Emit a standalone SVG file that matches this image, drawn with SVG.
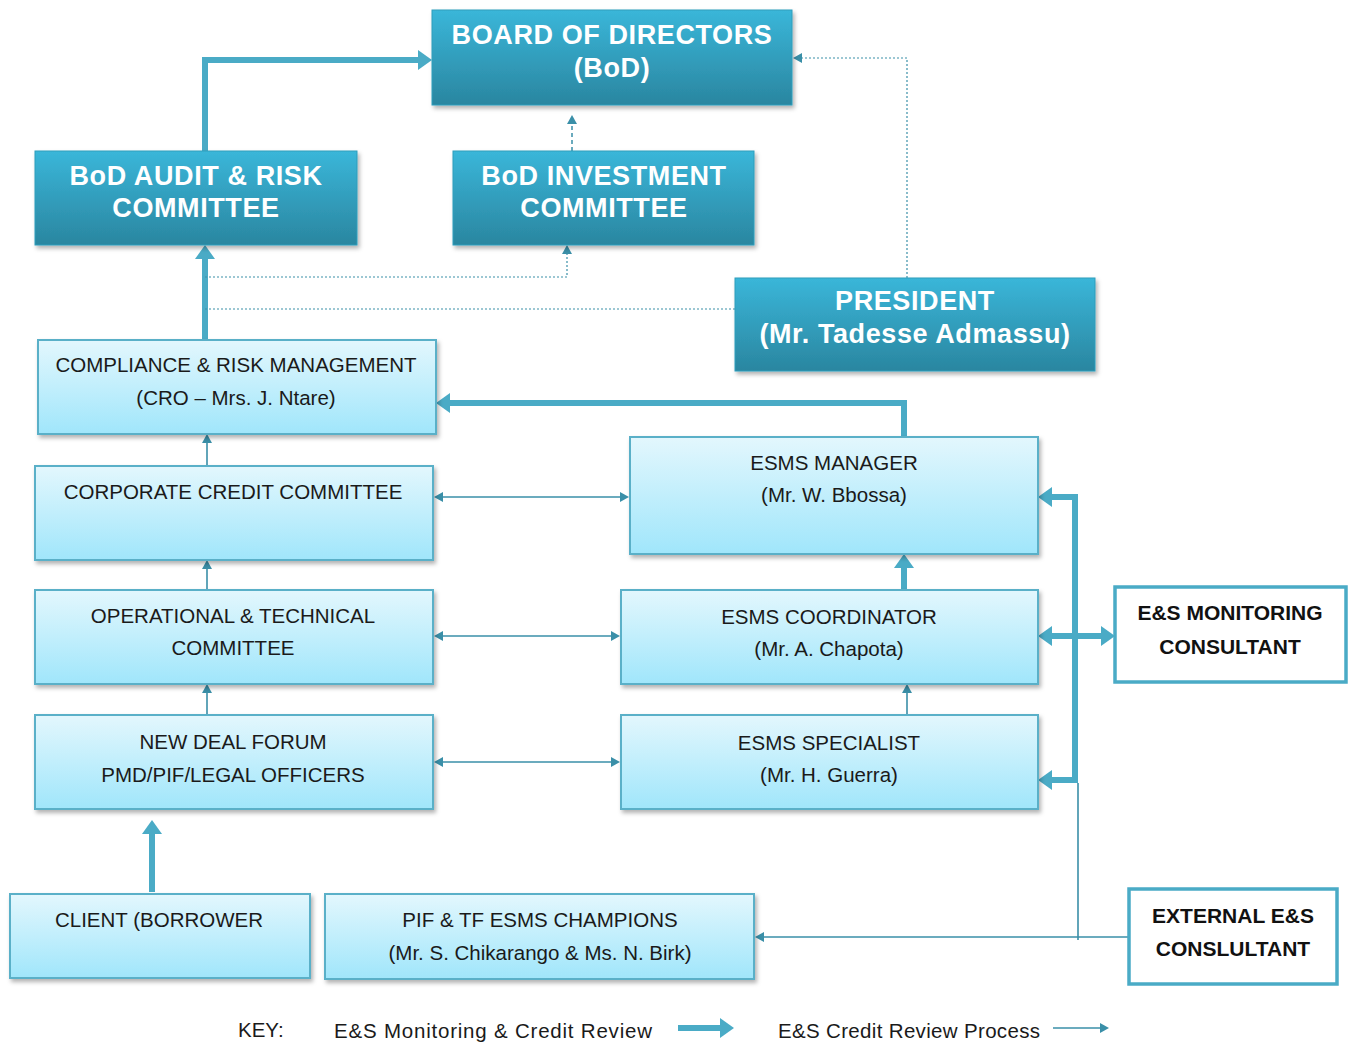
<svg xmlns="http://www.w3.org/2000/svg" width="1351" height="1045" viewBox="0 0 1351 1045">
<defs>
<linearGradient id="dark" x1="0" y1="0" x2="0" y2="1">
<stop offset="0" stop-color="#3ab6d9"/><stop offset="1" stop-color="#2a86a0"/>
</linearGradient>
<linearGradient id="light" x1="0" y1="0" x2="0" y2="1">
<stop offset="0" stop-color="#e3f7fd"/><stop offset="1" stop-color="#a0e6fb"/>
</linearGradient>
<filter id="sh" x="-5%" y="-5%" width="115%" height="125%">
<feDropShadow dx="2" dy="3" stdDeviation="2" flood-color="#000" flood-opacity="0.3"/>
</filter>
<marker id="thick" viewBox="0 0 14 20" refX="2" refY="10" markerWidth="14" markerHeight="20" markerUnits="userSpaceOnUse" orient="auto-start-reverse">
<path d="M0,0 L14,10 L0,20 z" fill="#4aabc6"/>
</marker>
<marker id="thin" viewBox="0 0 9 10" refX="1" refY="5" markerWidth="9" markerHeight="10" markerUnits="userSpaceOnUse" orient="auto-start-reverse">
<path d="M0,0 L9,5 L0,10 z" fill="#3a8fa8"/>
</marker>
</defs>
<style>
.dk{fill:url(#dark);stroke:#2f9dbb;stroke-width:1;filter:url(#sh)}
.lt{fill:url(#light);stroke:#5ab0c8;stroke-width:2;filter:url(#sh)}
.wb{fill:#fff;stroke:#4aabc6;stroke-width:3.5}
.dt{font-family:"Liberation Sans",Arial,sans-serif;font-weight:bold;font-size:27px;letter-spacing:0.6px;fill:#fff;text-anchor:middle}
.lx{font-family:"Liberation Sans",Arial,sans-serif;font-size:20.5px;fill:#1a1a1a;text-anchor:middle}
.bx{font-family:"Liberation Sans",Arial,sans-serif;font-weight:bold;font-size:21px;fill:#111;text-anchor:middle}
.kx{font-family:"Liberation Sans",Arial,sans-serif;font-size:20.5px;fill:#1a1a1a}
.tk{fill:none;stroke:#4aabc6;stroke-width:6}
.tn{fill:none;stroke:#3a8fa8;stroke-width:1.6}
.dd{fill:none;stroke:#3a8fa8;stroke-width:1.2;stroke-dasharray:2 2}
</style>
<rect width="1351" height="1045" fill="#fff"/>

<g id="connectors">
<path class="tk" d="M205,151 V60 H420" marker-end="url(#thick)"/>
<path class="tk" d="M205,340 V257" marker-end="url(#thick)"/>
<path class="tk" d="M904,437 V403 H448" marker-end="url(#thick)"/>
<path class="tk" d="M904,590 V566" marker-end="url(#thick)"/>
<path class="tk" d="M152,892 V832" marker-end="url(#thick)"/>
<path class="tk" d="M1075,494 V783"/>
<path class="tk" d="M1078,497 H1050" marker-end="url(#thick)"/>
<path class="tk" d="M1078,780 H1050" marker-end="url(#thick)"/>
<path class="tk" d="M1050,636 H1103" marker-start="url(#thick)" marker-end="url(#thick)"/>
<path class="tn" d="M1078,783 V940"/>
<path class="tn" d="M1129,937 H763" marker-end="url(#thin)"/>
<path class="tn" d="M207,466 V442" marker-end="url(#thin)"/>
<path class="tn" d="M207,590 V568" marker-end="url(#thin)"/>
<path class="tn" d="M207,715 V692" marker-end="url(#thin)"/>
<path class="tn" d="M442,497 H621" marker-start="url(#thin)" marker-end="url(#thin)"/>
<path class="tn" d="M442,636 H612" marker-start="url(#thin)" marker-end="url(#thin)"/>
<path class="tn" d="M442,762 H612" marker-start="url(#thin)" marker-end="url(#thin)"/>
<path class="tn" d="M907,715 V692" marker-end="url(#thin)"/>
<path fill="none" stroke="#3a8fa8" stroke-width="1.5" stroke-dasharray="4 3" d="M572,151 V123" marker-end="url(#thin)"/>
<path class="dd" d="M205,277 H567 V253" marker-end="url(#thin)"/>
<path class="dd" d="M205,309 H735"/>
<path class="dd" d="M907,278 V58 H801" marker-end="url(#thin)"/>
<path class="tk" d="M678,1028 H722" marker-end="url(#thick)"/>
<path class="tn" d="M1053,1028 H1101" marker-end="url(#thin)"/>
</g>

<g id="bod"><rect class="dk" x="432" y="10" width="360" height="95"/>
<text class="dt" x="612" y="44">BOARD OF DIRECTORS</text><text class="dt" x="612" y="77">(BoD)</text></g>
<g id="audit"><rect class="dk" x="35" y="151" width="322" height="94"/>
<text class="dt" x="196" y="185">BoD AUDIT &amp; RISK</text><text class="dt" x="196" y="217">COMMITTEE</text></g>
<g id="investment"><rect class="dk" x="453" y="151" width="301" height="94"/>
<text class="dt" x="604" y="185">BoD INVESTMENT</text><text class="dt" x="604" y="217">COMMITTEE</text></g>
<g id="president"><rect class="dk" x="735" y="278" width="360" height="93"/>
<text class="dt" x="915" y="310">PRESIDENT</text><text class="dt" x="915" y="343">(Mr. Tadesse Admassu)</text></g>

<g id="compliance"><rect class="lt" x="38" y="340" width="398" height="94"/>
<text class="lx" x="236" y="372">COMPLIANCE &amp; RISK MANAGEMENT</text><text class="lx" x="236" y="405">(CRO – Mrs. J. Ntare)</text></g>
<g id="corporate"><rect class="lt" x="35" y="466" width="398" height="94"/>
<text class="lx" x="233" y="499">CORPORATE CREDIT COMMITTEE</text></g>
<g id="operational"><rect class="lt" x="35" y="590" width="398" height="94"/>
<text class="lx" x="233" y="623">OPERATIONAL &amp; TECHNICAL</text><text class="lx" x="233" y="655">COMMITTEE</text></g>
<g id="newdeal"><rect class="lt" x="35" y="715" width="398" height="94"/>
<text class="lx" x="233" y="749">NEW DEAL FORUM</text><text class="lx" x="233" y="782">PMD/PIF/LEGAL OFFICERS</text></g>
<g id="manager"><rect class="lt" x="630" y="437" width="408" height="117"/>
<text class="lx" x="834" y="470">ESMS MANAGER</text><text class="lx" x="834" y="502">(Mr. W. Bbossa)</text></g>
<g id="coordinator"><rect class="lt" x="621" y="590" width="417" height="94"/>
<text class="lx" x="829" y="624">ESMS COORDINATOR</text><text class="lx" x="829" y="656">(Mr. A. Chapota)</text></g>
<g id="specialist"><rect class="lt" x="621" y="715" width="417" height="94"/>
<text class="lx" x="829" y="750">ESMS SPECIALIST</text><text class="lx" x="829" y="782">(Mr. H. Guerra)</text></g>
<g id="client"><rect class="lt" x="10" y="894" width="300" height="84"/>
<text class="lx" x="159" y="927">CLIENT (BORROWER</text></g>
<g id="champions"><rect class="lt" x="325" y="894" width="429" height="85"/>
<text class="lx" x="540" y="927">PIF &amp; TF ESMS CHAMPIONS</text><text class="lx" x="540" y="960">(Mr. S. Chikarango &amp; Ms. N. Birk)</text></g>
<g id="monitoring"><rect class="wb" x="1115" y="587" width="231" height="95"/>
<text class="bx" x="1230" y="620">E&amp;S MONITORING</text><text class="bx" x="1230" y="654">CONSULTANT</text></g>
<g id="external"><rect class="wb" x="1129" y="889" width="208" height="95"/>
<text class="bx" x="1233" y="923">EXTERNAL E&amp;S</text><text class="bx" x="1233" y="956">CONSLULTANT</text></g>

<g id="key">
<text class="kx" x="238" y="1037">KEY:</text>
<text class="kx" x="334" y="1038" textLength="318">E&amp;S Monitoring &amp; Credit Review</text>
<text class="kx" x="778" y="1038" textLength="262">E&amp;S Credit Review Process</text>
</g>
</svg>
